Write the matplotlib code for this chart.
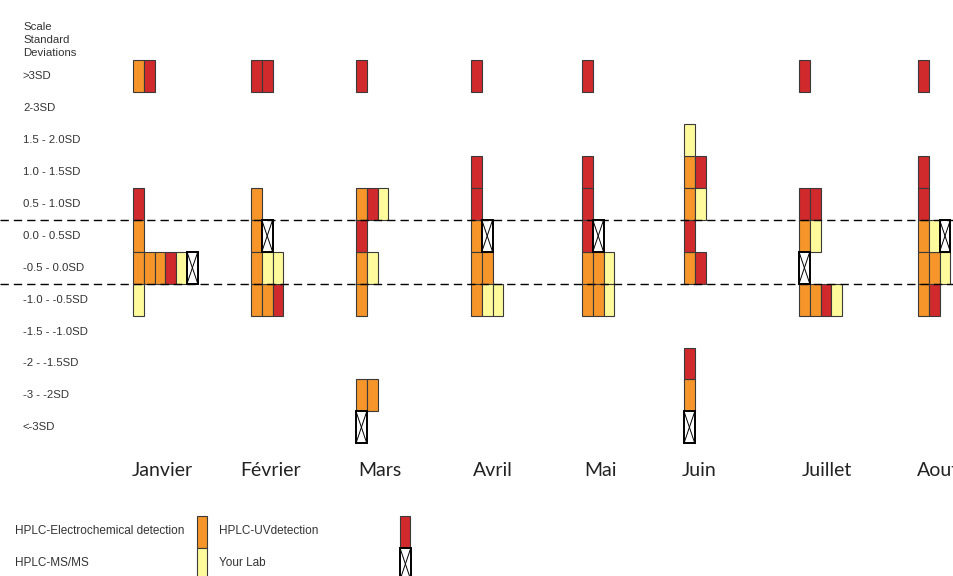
import matplotlib.pyplot as plt

# Data
MONTHS = ["Janvier", "Février", "Mars", "Avril", "Mai", "Juin", "Juillet", "Aout"]
SD_LABELS = [">3SD", "2-3SD", "1.5 - 2.0SD", "1.0 - 1.5SD", "0.5 - 1.0SD",
             "0.0 - 0.5SD", "-0.5 - 0.0SD", "-1.0 - -0.5SD", "-1.5 - -1.0SD",
             "-2 - -1.5SD", "-3 - -2SD", "<-3SD"]
HEADER = ["Scale", "Standard", "Deviations"]

# number of labs per SD class (rows top -> bottom), one list per month
ELECTRO = [
    [1, 0, 0, 0, 0, 1, 3, 0, 0, 0, 0, 0],
    [0, 0, 0, 0, 1, 1, 1, 2, 0, 0, 0, 0],
    [0, 0, 0, 0, 1, 0, 1, 1, 0, 0, 2, 0],
    [0, 0, 0, 0, 0, 1, 2, 1, 0, 0, 0, 0],
    [0, 0, 0, 0, 0, 0, 2, 2, 0, 0, 0, 0],
    [0, 0, 0, 1, 1, 0, 1, 0, 0, 0, 1, 0],
    [0, 0, 0, 0, 0, 1, 0, 2, 0, 0, 0, 0],
    [0, 0, 0, 0, 0, 1, 2, 1, 0, 0, 0, 0],
]
UV = [
    [1, 0, 0, 0, 1, 0, 1, 0, 0, 0, 0, 0],
    [2, 0, 0, 0, 0, 0, 0, 1, 0, 0, 0, 0],
    [1, 0, 0, 0, 1, 1, 0, 0, 0, 0, 0, 0],
    [1, 0, 0, 1, 1, 0, 0, 0, 0, 0, 0, 0],
    [1, 0, 0, 1, 1, 1, 0, 0, 0, 0, 0, 0],
    [0, 0, 0, 1, 0, 1, 1, 0, 0, 1, 0, 0],
    [1, 0, 0, 0, 2, 0, 0, 1, 0, 0, 0, 0],
    [1, 0, 0, 1, 1, 0, 0, 1, 0, 0, 0, 0],
]
MSMS = [
    [0, 0, 0, 0, 0, 0, 1, 1, 0, 0, 0, 0],
    [0, 0, 0, 0, 0, 0, 2, 0, 0, 0, 0, 0],
    [0, 0, 0, 0, 1, 0, 1, 0, 0, 0, 0, 0],
    [0, 0, 0, 0, 0, 0, 0, 2, 0, 0, 0, 0],
    [0, 0, 0, 0, 0, 0, 1, 1, 0, 0, 0, 0],
    [0, 0, 1, 0, 1, 0, 0, 0, 0, 0, 0, 0],
    [0, 0, 0, 0, 0, 1, 0, 1, 0, 0, 0, 0],
    [0, 0, 0, 0, 0, 1, 1, 0, 0, 0, 0, 0],
]
# SD class of "Your Lab" for each month
YOUR_LAB = [6, 5, 11, 5, 5, 11, 6, 5]

# Layout / style
MONTH_X0 = [133, 251, 356, 471, 582, 684, 799, 918]
MONTH_LABEL_X = [132, 240, 358, 473, 584, 682, 802, 917]
BOX_W = 10.8
ROW0_PX, ROW_PX = 76.4, 31.9
ORANGE, RED, YELLOW = "#F5952A", "#D02A2D", "#FFFB9C"
EDGE = "#3a3a3a"
TXT = "#333333"


def row_of(py):
    # pixel y of the picture -> row units
    return (py - ROW0_PX) / ROW_PX


fig = plt.figure(figsize=(9.54, 5.76), dpi=100)
ax = fig.add_axes([0, 0, 1, 1])
ax.set_xlim(0, 954)
ax.set_ylim(row_of(576), row_of(0))
ax.axis("off")

series = [(ELECTRO, ORANGE), (UV, RED), (MSMS, YELLOW)]
boxes = {c: ([], []) for _, c in series}
lab_x, lab_y = [], []
for m in range(len(MONTHS)):
    for r in range(len(SD_LABELS)):
        col = 0
        for counts, color in series:
            for _ in range(counts[m][r]):
                boxes[color][0].append(MONTH_X0[m] + col * BOX_W)
                boxes[color][1].append(r - 0.5)
                col += 1
        if YOUR_LAB[m] == r:
            lab_x.append(MONTH_X0[m] + col * BOX_W)
            lab_y.append(r - 0.5)

for color, (xs, ys) in boxes.items():
    ax.bar(xs, 1, width=BOX_W, bottom=ys, align="edge", color=color,
           edgecolor=EDGE, linewidth=0.8, zorder=2)


def draw_lab(xs, ys):
    ax.bar(xs, 1, width=BOX_W, bottom=ys, align="edge", color="white",
           edgecolor="black", linewidth=1.4, zorder=3)
    for x, y in zip(xs, ys):
        ax.plot([x, x + BOX_W], [y, y + 1], color="black", lw=0.7, zorder=4)
        ax.plot([x, x + BOX_W], [y + 1, y], color="black", lw=0.7, zorder=4)


draw_lab(lab_x, lab_y)

# dashed +-0.5SD lines
for yb in [4.5, 6.5]:
    ax.axhline(yb, color="black", lw=1, dashes=(6, 3.6), zorder=5)

# SD class labels
for py, line in zip([27, 40, 53], HEADER):
    ax.text(23, row_of(py), line, fontsize=8.2, family="Liberation Sans",
            color=TXT, va="center", ha="left")
for r, lab in enumerate(SD_LABELS):
    ax.text(23, r, lab, fontsize=8.2, family="Liberation Sans", color=TXT,
            va="center", ha="left")

# month labels
for x, name in zip(MONTH_LABEL_X, MONTHS):
    ax.text(x, row_of(470), name, fontsize=14, family="Lato", color="#222222",
            va="center", ha="left")

# legend
ax.bar([197], 1, width=10, bottom=[row_of(516)], align="edge", color=ORANGE,
       edgecolor=EDGE, linewidth=0.8)
ax.bar([197], 1, width=10, bottom=[row_of(548)], align="edge", color=YELLOW,
       edgecolor=EDGE, linewidth=0.8)
ax.bar([400], 1, width=10, bottom=[row_of(516)], align="edge", color=RED,
       edgecolor=EDGE, linewidth=0.8)
draw_lab([400], [row_of(548)])
for x, py, lab in [(15, 531.5, "HPLC-Electrochemical detection"),
                   (15, 562.5, "HPLC-MS/MS"),
                   (219, 531.5, "HPLC-UVdetection"),
                   (219, 562.5, "Your Lab")]:
    ax.text(x, row_of(py), lab, fontsize=8.5, family="Liberation Sans",
            color=TXT, va="center", ha="left")

fig.savefig("out.png", dpi=100)
